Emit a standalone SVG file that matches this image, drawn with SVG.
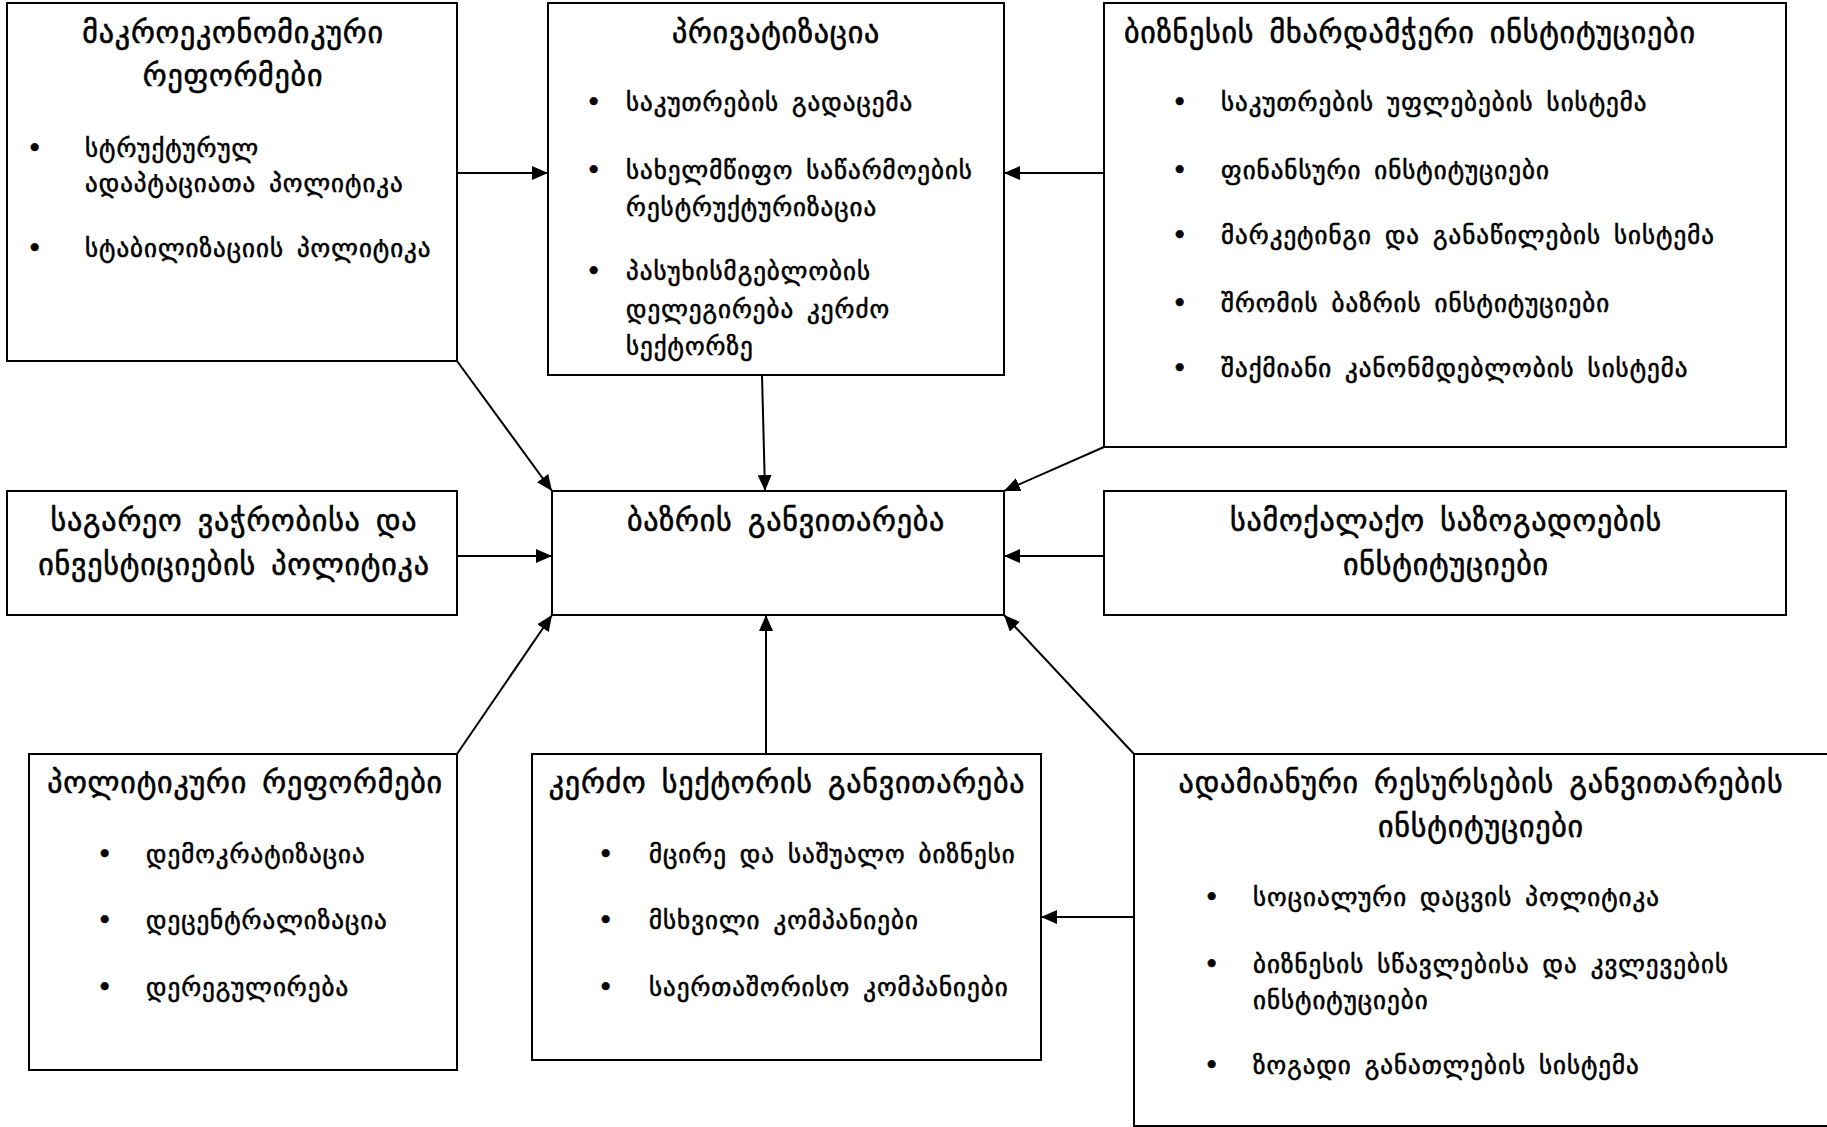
<svg xmlns="http://www.w3.org/2000/svg" width="1827" height="1127" viewBox="0 0 1827 1127">
<style>
  .box{fill:#fff;stroke:#000;stroke-width:2}
  text{font-family:"DejaVu Sans",sans-serif;fill:#000;stroke:#000;stroke-width:0.6}
  .t{font-size:30px;text-anchor:middle;letter-spacing:0.8px;word-spacing:5px}
  .b{font-size:25px;letter-spacing:1px;word-spacing:4px}
  .d{font-size:26px}
  .c line{stroke:#000;stroke-width:2}
</style>
<defs>
  <marker id="ah" markerUnits="userSpaceOnUse" markerWidth="16" markerHeight="14" refX="16" refY="7" orient="auto">
    <path d="M0,0 L16,7 L0,14 Z" fill="#000"/>
  </marker>
</defs>
<rect width="1827" height="1127" fill="#fff"/>

<g id="n-macro">
  <rect class="box" x="7" y="3" width="450" height="358"/>
  <text class="t" x="233" y="43">მაკროეკონომიკური</text>
  <text class="t" x="233" y="86">რეფორმები</text>
  <text class="d" x="27" y="157">•</text>
  <text class="b" x="85" y="157">სტრუქტურულ</text>
  <text class="b" x="85" y="192">ადაპტაციათა პოლიტიკა</text>
  <text class="d" x="27" y="257">•</text>
  <text class="b" x="85" y="257">სტაბილიზაციის პოლიტიკა</text>
</g>

<g id="n-priv">
  <rect class="box" x="548" y="3" width="456" height="372"/>
  <text class="t" x="776" y="43">პრივატიზაცია</text>
  <text class="d" x="586" y="111">•</text>
  <text class="b" x="626" y="111">საკუთრების გადაცემა</text>
  <text class="d" x="586" y="179">•</text>
  <text class="b" x="626" y="179">სახელმწიფო საწარმოების</text>
  <text class="b" x="626" y="216">რესტრუქტურიზაცია</text>
  <text class="d" x="586" y="280">•</text>
  <text class="b" x="626" y="280">პასუხისმგებლობის</text>
  <text class="b" x="626" y="318">დელეგირება კერძო</text>
  <text class="b" x="626" y="355">სექტორზე</text>
</g>

<g id="n-business">
  <rect class="box" x="1104" y="3" width="682" height="444"/>
  <text class="t" x="1124" y="43" style="text-anchor:start">ბიზნესის მხარდამჭერი ინსტიტუციები</text>
  <text class="d" x="1172" y="111">•</text>
  <text class="b" x="1221" y="111">საკუთრების უფლებების სისტემა</text>
  <text class="d" x="1172" y="179">•</text>
  <text class="b" x="1221" y="179">ფინანსური ინსტიტუციები</text>
  <text class="d" x="1172" y="244">•</text>
  <text class="b" x="1221" y="244">მარკეტინგი და განაწილების სისტემა</text>
  <text class="d" x="1172" y="312">•</text>
  <text class="b" x="1221" y="312">შრომის ბაზრის ინსტიტუციები</text>
  <text class="d" x="1172" y="377">•</text>
  <text class="b" x="1221" y="377">შაქმიანი კანონმდებლობის სისტემა</text>
</g>

<g id="n-trade">
  <rect class="box" x="7" y="491" width="450" height="124"/>
  <text class="t" x="234" y="531">საგარეო ვაჭრობისა და</text>
  <text class="t" x="234" y="575">ინვესტიციების პოლიტიკა</text>
</g>

<g id="n-market">
  <rect class="box" x="552" y="491" width="452" height="124"/>
  <text class="t" x="786" y="531">ბაზრის განვითარება</text>
</g>

<g id="n-civil">
  <rect class="box" x="1104" y="491" width="682" height="124"/>
  <text class="t" x="1446" y="531">სამოქალაქო საზოგადოების</text>
  <text class="t" x="1446" y="575">ინსტიტუციები</text>
</g>

<g id="n-political">
  <rect class="box" x="29" y="754" width="428" height="316"/>
  <text class="t" x="245" y="793">პოლიტიკური რეფორმები</text>
  <text class="d" x="97" y="863">•</text>
  <text class="b" x="146" y="863">დემოკრატიზაცია</text>
  <text class="d" x="97" y="929">•</text>
  <text class="b" x="146" y="929">დეცენტრალიზაცია</text>
  <text class="d" x="97" y="996">•</text>
  <text class="b" x="146" y="996">დერეგულირება</text>
</g>

<g id="n-private">
  <rect class="box" x="532" y="754" width="509" height="306"/>
  <text class="t" x="787" y="793">კერძო სექტორის განვითარება</text>
  <text class="d" x="598" y="863">•</text>
  <text class="b" x="649" y="863">მცირე და საშუალო ბიზნესი</text>
  <text class="d" x="598" y="929">•</text>
  <text class="b" x="649" y="929">მსხვილი კომპანიები</text>
  <text class="d" x="598" y="996">•</text>
  <text class="b" x="649" y="996">საერთაშორისო კომპანიები</text>
</g>

<g id="n-human">
  <rect class="box" x="1134" y="754" width="700" height="372"/>
  <text class="t" x="1481" y="793">ადამიანური რესურსების განვითარების</text>
  <text class="t" x="1481" y="837">ინსტიტუციები</text>
  <text class="d" x="1204" y="906">•</text>
  <text class="b" x="1253" y="906">სოციალური დაცვის პოლიტიკა</text>
  <text class="d" x="1204" y="973">•</text>
  <text class="b" x="1253" y="973">ბიზნესის სწავლებისა და კვლევების</text>
  <text class="b" x="1253" y="1009">ინსტიტუციები</text>
  <text class="d" x="1204" y="1074">•</text>
  <text class="b" x="1253" y="1074">ზოგადი განათლების სისტემა</text>
</g>

<g id="connectors" class="c">
  <line x1="457" y1="173" x2="548" y2="173" marker-end="url(#ah)"/>
  <line x1="1104" y1="173" x2="1004" y2="173" marker-end="url(#ah)"/>
  <line x1="457" y1="361" x2="552" y2="491" marker-end="url(#ah)"/>
  <line x1="762" y1="375" x2="765" y2="491" marker-end="url(#ah)"/>
  <line x1="1104" y1="447" x2="1004" y2="491" marker-end="url(#ah)"/>
  <line x1="457" y1="556" x2="552" y2="556" marker-end="url(#ah)"/>
  <line x1="1104" y1="556" x2="1004" y2="556" marker-end="url(#ah)"/>
  <line x1="457" y1="754" x2="552" y2="615" marker-end="url(#ah)"/>
  <line x1="766" y1="754" x2="766" y2="615" marker-end="url(#ah)"/>
  <line x1="1134" y1="754" x2="1004" y2="615" marker-end="url(#ah)"/>
  <line x1="1134" y1="917" x2="1041" y2="917" marker-end="url(#ah)"/>
</g>
</svg>
